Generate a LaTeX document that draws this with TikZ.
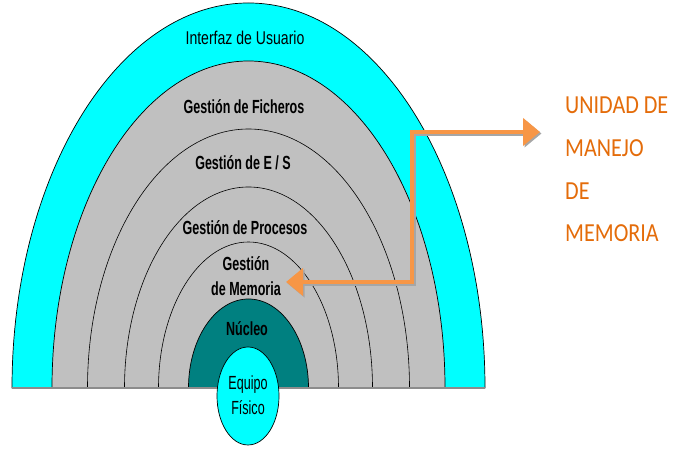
\documentclass[tikz,border=0pt]{standalone}
\usepackage{fontspec}
\usetikzlibrary{positioning, arrows.meta}
\newfontfamily\layerfont[FakeStretch=0.66]{Liberation Sans}
\newfontfamily\topfont[FakeStretch=0.76]{Liberation Sans}
\newfontfamily\unitfont[FakeStretch=0.85]{Carlito}
\definecolor{layercyan}{RGB}{0,255,255}
\definecolor{layergray}{RGB}{192,192,192}
\definecolor{nucleoteal}{RGB}{0,128,128}
\definecolor{arroworange}{HTML}{F79646}
\definecolor{unitorange}{HTML}{E46C0A}

\begin{document}
\begin{tikzpicture}[
        x=1pt, y=1pt,
        layer/.style={draw=black, line width=0.7pt},
        ring/.style={draw=black, line width=0.6pt},
        label/.style={font=\layerfont\bfseries\fontsize{19}{25}\selectfont, align=center, inner sep=2pt},
        arrow/.style={line width=4.5pt, arroworange, {Triangle[length=17pt, width=27pt]}-{Triangle[length=17pt, width=27pt]}},
        arrowshadow/.style={arrow, black!35, transform canvas={shift={(1.5pt,-1.5pt)}}}
    ]
    \useasboundingbox (0,0) rectangle (679,462);

    % arches, outside in
    \filldraw[layer, fill=layercyan] (12,74) arc[start angle=180, end angle=0, x radius=236.5, y radius=385] -- cycle;
    \filldraw[layer, fill=layergray] (52,74) arc[start angle=180, end angle=0, x radius=196.5, y radius=327] -- cycle;
    \draw[ring] (87.5,74) arc[start angle=180, end angle=0, x radius=161, y radius=259];
    \draw[ring] (124.5,74) arc[start angle=180, end angle=0, x radius=124, y radius=201];
    \draw[ring] (158.5,74) arc[start angle=180, end angle=0, x radius=90, y radius=146];
    \filldraw[layer, fill=nucleoteal] (188.5,74) arc[start angle=180, end angle=0, x radius=60, y radius=89] -- cycle;
    \draw[line width=2pt, black!45] (12,74) -- (485,74);
    \filldraw[layer, fill=layercyan] (248,66) ellipse[x radius=31, y radius=49];

    \node[label, font=\topfont\fontsize{18.5}{25}\selectfont] (usuario) at (245,424) {Interfaz de Usuario};
    \node[label] (ficheros) at (244,355) {Gestión de Ficheros};
    \node[label] (es) at (243,299) {Gestión de E / S};
    \node[label] (procesos) at (245,234) {Gestión de Procesos};
    \node[label] (memoria) at (246,186) {Gestión\\de Memoria};
    \node[label] (nucleo) at (247,133) {Núcleo};
    \node[label, font=\layerfont\fontsize{19}{25}\selectfont] (equipo) at (248,67) {Equipo\\Físico};

    \node[anchor=north west, inner sep=0pt, align=left, text=unitorange,
          font=\unitfont\fontsize{26}{42.7}\selectfont] (unidad) at (565,365)
          {UNIDAD DE\\MANEJO\\DE\\MEMORIA};

    \coordinate (bend) at (412,330);
    \draw[arrowshadow, shorten >=25pt] ([xshift=3pt, yshift=-6pt]memoria.east) -| (bend) -- (unidad.west |- bend);
    \draw[arrow, shorten >=25pt] ([xshift=3pt, yshift=-6pt]memoria.east) -| (bend) -- (unidad.west |- bend);
\end{tikzpicture}
\end{document}
